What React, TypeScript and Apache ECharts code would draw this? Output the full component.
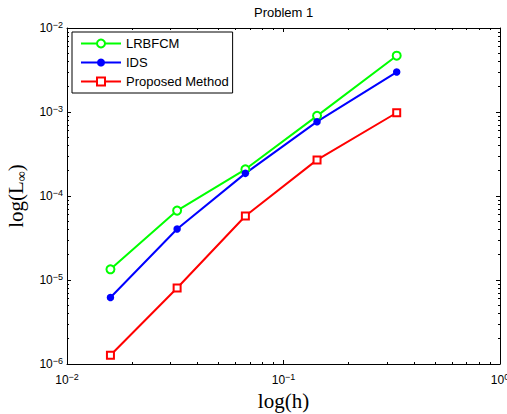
import React, { useEffect, useRef } from "react";
import * as echarts from "echarts";

// grid spacing h
const hValues = [0.015873, 0.032258, 0.066667, 0.142857, 0.333333];
// max error values
const lrbfcm = [1.34e-5, 6.7e-5, 2.08e-4, 9.0e-4, 4.68e-3];
const ids = [6.2e-6, 4.05e-5, 1.86e-4, 7.67e-4, 2.99e-3];
const proposed = [1.27e-6, 8.03e-6, 5.78e-5, 2.69e-4, 9.8e-4];

const seriesNames = ["LRBFCM", "IDS", "Proposed Method"];
const xMajor = [0.01, 0.1, 1];
const yMajor = [1e-6, 1e-5, 1e-4, 1e-3, 1e-2];
const multipliers = [2, 3, 4, 5, 6, 7, 8, 9];
const xDecades = [0.01, 0.1];
const yDecades = [1e-6, 1e-5, 1e-4, 1e-3];

const xMinor: number[] = [];
xDecades.forEach((d) => multipliers.forEach((m) => xMinor.push(+(d * m).toPrecision(6))));
const yMinor: number[] = [];
yDecades.forEach((d) => multipliers.forEach((m) => yMinor.push(+(d * m).toPrecision(6))));

const SANS = "Liberation Sans";
const SERIF = "Liberation Serif";

const powLabel = (v: number) => {
  const e = Math.round(Math.log10(v));
  const s = e < 0 ? "\u2212" + Math.abs(e) : String(e);
  return "{b|10}{s|" + s + "}";
};

const labelRich = {
  b: { fontSize: 12, fontFamily: SANS, color: "#000", lineHeight: 16 },
  s: { fontSize: 9, fontFamily: SANS, color: "#000", lineHeight: 3, verticalAlign: "top" },
};

const black = { color: "#000", width: 1 };

export default function App() {
  const ref = useRef<HTMLDivElement>(null);
  useEffect(() => {
    if (!ref.current) return;
    const chart = echarts.init(ref.current, null, { renderer: "svg" });
    const pairs = (vals: number[]) => hValues.map((h, i) => [h, vals[i]]);
    const logX = { type: "log", logBase: 10, min: 0.01, max: 1, splitLine: { show: false } };
    const logY = { type: "log", logBase: 10, min: 1e-6, max: 1e-2, splitLine: { show: false } };
    chart.setOption({
      animation: false,
      backgroundColor: "#fff",
      title: {
        text: "Problem 1",
        left: 254,
        top: 6,
        padding: 0,
        textStyle: { fontFamily: SANS, fontSize: 13, fontWeight: "normal", color: "#000" },
      },
      grid: { left: 67, right: 7, top: 28, bottom: 50, containLabel: false, outerBoundsMode: "none" },
      legend: {
        orient: "vertical",
        left: 72,
        top: 32,
        padding: [4, 4, 4, 8],
        itemWidth: 40,
        itemHeight: 10,
        itemGap: 4,
        backgroundColor: "#fff",
        borderColor: "#000",
        borderWidth: 1,
        borderRadius: 0,
        textStyle: { fontFamily: SANS, fontSize: 13, color: "#000", lineHeight: 15 },
        data: seriesNames,
      },
      xAxis: [
        {
          ...logX,
          position: "bottom",
          axisLine: { show: true, onZero: false, lineStyle: black },
          axisTick: { show: true, inside: true, length: 4, customValues: xMajor, lineStyle: black },
          axisLabel: { customValues: xMajor, formatter: powLabel, rich: labelRich, margin: 8 },
          name: "log(h)",
          nameLocation: "middle",
          nameGap: 23,
          nameTextStyle: { fontFamily: SERIF, fontSize: 21, color: "#000" },
        },
        {
          ...logX,
          position: "bottom",
          axisLine: { show: false, onZero: false },
          axisTick: { show: true, inside: true, length: 2, customValues: xMinor, lineStyle: black },
          axisLabel: { show: false },
        },
        {
          ...logX,
          position: "top",
          axisLine: { show: true, onZero: false, lineStyle: black },
          axisTick: { show: true, inside: true, length: 4, customValues: xMajor, lineStyle: black },
          axisLabel: { show: false },
        },
        {
          ...logX,
          position: "top",
          axisLine: { show: false, onZero: false },
          axisTick: { show: true, inside: true, length: 2, customValues: xMinor, lineStyle: black },
          axisLabel: { show: false },
        },
      ],
      yAxis: [
        {
          ...logY,
          position: "left",
          axisLine: { show: true, onZero: false, lineStyle: black },
          axisTick: { show: true, inside: true, length: 4, customValues: yMajor, lineStyle: black },
          axisLabel: { customValues: yMajor, formatter: powLabel, rich: labelRich, margin: 4 },
          name: "{a|log(L}{c|\u221E}{a|)}",
          nameLocation: "middle",
          nameRotate: 90,
          nameGap: 36,
          nameTextStyle: {
            rich: {
              a: { fontFamily: SERIF, fontSize: 21, color: "#000", lineHeight: 24 },
              c: { fontFamily: SERIF, fontSize: 14, color: "#000", lineHeight: 12, verticalAlign: "bottom" },
            },
          },
        },
        {
          ...logY,
          position: "left",
          axisLine: { show: false, onZero: false },
          axisTick: { show: true, inside: true, length: 2, customValues: yMinor, lineStyle: black },
          axisLabel: { show: false },
        },
        {
          ...logY,
          position: "right",
          axisLine: { show: true, onZero: false, lineStyle: black },
          axisTick: { show: true, inside: true, length: 4, customValues: yMajor, lineStyle: black },
          axisLabel: { show: false },
        },
        {
          ...logY,
          position: "right",
          axisLine: { show: false, onZero: false },
          axisTick: { show: true, inside: true, length: 2, customValues: yMinor, lineStyle: black },
          axisLabel: { show: false },
        },
      ],
      series: [
        {
          name: seriesNames[0],
          type: "line",
          data: pairs(lrbfcm),
          symbol: "emptyCircle",
          symbolSize: 8,
          lineStyle: { color: "#00ff00", width: 2 },
          itemStyle: { color: "#00ff00", borderColor: "#00ff00", borderWidth: 2 },
          z: 3,
        },
        {
          name: seriesNames[1],
          type: "line",
          data: pairs(ids),
          symbol: "circle",
          symbolSize: 7.5,
          lineStyle: { color: "#0000ff", width: 2 },
          itemStyle: { color: "#0000ff" },
          z: 3,
        },
        {
          name: seriesNames[2],
          type: "line",
          data: pairs(proposed),
          symbol: "emptyRect",
          symbolSize: 7,
          lineStyle: { color: "#ff0000", width: 2 },
          itemStyle: { color: "#ff0000", borderColor: "#ff0000", borderWidth: 2 },
          z: 3,
        },
      ],
    });
    return () => chart.dispose();
  }, []);
  return (
    <div
      ref={ref}
      style={{ position: "fixed", left: 0, top: 0, width: 507, height: 414, background: "#fff" }}
    />
  );
}
